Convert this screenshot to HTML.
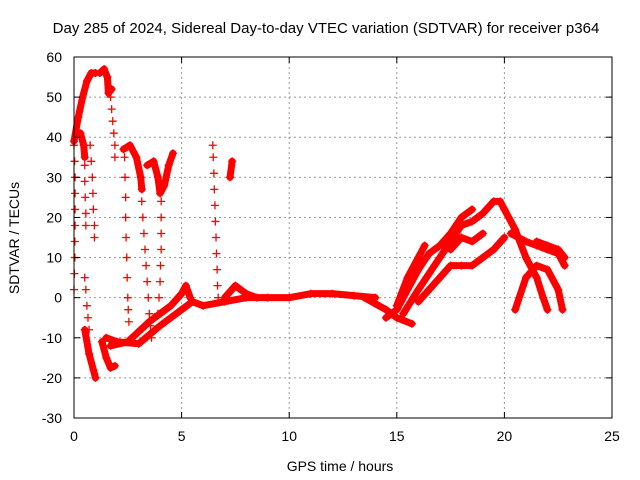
<!DOCTYPE html>
<html><head><meta charset="utf-8"><style>
body{margin:0;background:#fff;}
svg{display:block;font-family:"Liberation Sans",sans-serif;}
</style></head><body>
<svg id="chart" width="640" height="480">
<text x="326" y="33" text-anchor="middle" font-size="15">Day 285 of 2024, Sidereal Day-to-day VTEC variation (SDTVAR) for receiver p364</text>
<text x="340" y="471" text-anchor="middle" font-size="14">GPS time / hours</text>
<text transform="translate(19,238) rotate(-90)" text-anchor="middle" font-size="14">SDTVAR / TECUs</text>
<g id="grid"></g><g id="marks"></g><g id="axes"></g>
</svg>
<script>
const xTicks=[0,5,10,15,20,25];
const yTicks=[-30,-20,-10,0,10,20,30,40,60,50];
const tracks=[
[[0,39],[0.2,45],[0.4,50],[0.6,54],[0.8,56],[1.0,56]],
[[1.2,56],[1.4,57],[1.55,55],[1.6,51],[1.75,52]],
[[0.1,41],[0.3,41],[0.45,38],[0.5,35]],
[[0.5,-8],[0.7,-14],[0.9,-18],[1.0,-20]],
[[1.3,-11],[1.5,-15],[1.7,-17.5],[1.9,-17]],
[[2.3,37],[2.6,38],[2.9,35],[3.1,30],[3.15,27]],
[[3.4,33],[3.7,34],[3.9,30],[4.0,26],[4.2,28],[4.4,33],[4.6,36]],
[[1.5,-10],[2,-11],[3,-11.5],[4,-7],[5,-3],[5.5,-1],[6,-2],[7,-1],[8,0],[9,0],[10,0],[11,1],[12,1],[13,0.5],[14,0]],
[[1.7,-12],[2.5,-11],[3.5,-6],[4.5,-2],[5,1],[5.2,3],[5.4,0]],
[[7.25,30],[7.35,34]],
[[7,0],[7.5,3],[8,1],[8.5,0]],
[[13.5,0],[14.5,-3],[15,-5],[15.7,-6.5]],
[[14.5,-5],[15,-3],[15.5,2],[16,7],[16.5,11],[17,13],[17.5,16],[18,20],[18.5,22]],
[[15,-2],[15.5,5],[16,10],[16.3,13]],
[[15.3,-4],[16,2],[16.5,6],[17,10],[17.5,14],[18,18],[18.5,19],[19,21],[19.5,24],[19.8,24],[20,22],[20.5,17],[21,10],[21.5,5],[21.8,0],[22,-3]],
[[16,-1],[17,5],[17.5,8],[18,8],[18.5,8],[19,10],[19.5,12],[20,15]],
[[17.5,12],[18,15],[18.5,14],[19,16]],
[[20.5,-3],[21,5],[21.5,8],[22,7],[22.5,2],[22.7,-3]],
[[20.3,16],[21,14],[21.5,13],[22,12],[22.5,11],[22.8,8]],
[[21.5,14],[22,13],[22.5,12],[22.8,10]]
];
const sparseTracks=[
[[1.7,50],[1.75,47],[1.8,44],[1.85,41],[1.9,38],[1.9,35]],
[[0,38],[0.03,34],[0.05,30],[0.05,26],[0.05,22],[0.05,18],[0.04,14],[0.04,10],[0.02,6],[0,2]],
[[0.5,33],[0.5,29],[0.52,25],[0.55,21],[0.55,18]],
[[0.75,38],[0.8,34],[0.85,30],[0.88,26],[0.9,22],[0.95,18],[0.95,15]],
[[0.5,5],[0.55,2],[0.6,-2],[0.65,-5],[0.7,-8]],
[[3.15,24],[3.2,20],[3.25,16],[3.3,12],[3.35,8],[3.4,4],[3.45,0],[3.5,-4],[3.55,-7],[3.6,-10]],
[[4.05,24],[4.05,20],[4.05,16],[4.05,12],[4.02,8],[4.0,4],[3.95,0],[3.9,-4]],
[[2.35,35],[2.37,30],[2.4,25],[2.4,20],[2.42,15],[2.45,10],[2.47,5],[2.5,0],[2.52,-3],[2.55,-6]],
[[6.45,38],[6.47,35],[6.5,31],[6.52,27],[6.55,23],[6.57,19],[6.6,15],[6.62,11],[6.65,7],[6.67,3],[6.7,0]]
];
const NS='http://www.w3.org/2000/svg';
const X0=74,X1=612,Y0=418,Y1=57;
function sx(v){return X0+(v-0)/(25-0)*(X1-X0);}
function sy(v){return Y0-(v+30)/90*(Y0-Y1);}
function mk(t,a,p){const e=document.createElementNS(NS,t);for(const k in a)e.setAttribute(k,a[k]);p.appendChild(e);return e;}
const grid=document.getElementById('grid'),axes=document.getElementById('axes'),marks=document.getElementById('marks');
mk('rect',{x:X0,y:Y1,width:X1-X0,height:Y0-Y1,fill:'none',stroke:'#000','stroke-width':1},axes);
xTicks.forEach(t=>{const x=sx(t);
 if(t>0&&t<25){const g=mk('line',{x1:x,x2:x,y1:Y1,y2:Y0,stroke:'#999','stroke-dasharray':'2,3'},grid);}
 mk('line',{x1:x,x2:x,y1:Y0,y2:Y0-6,stroke:'#000'},axes);mk('line',{x1:x,x2:x,y1:Y1,y2:Y1+6,stroke:'#000'},axes);
 const l=mk('text',{x:x,y:Y0+23,'text-anchor':'middle','font-size':14},axes);l.textContent=t;
 
 });
yTicks.forEach(t=>{const y=sy(t);
 if(t>-30&&t<60){const g=mk('line',{x1:X0,x2:X1,y1:y,y2:y,stroke:'#999','stroke-dasharray':'2,3'},grid);}
 mk('line',{x1:X0,x2:X0+6,y1:y,y2:y,stroke:'#000'},axes);mk('line',{x1:X1,x2:X1-6,y1:y,y2:y,stroke:'#000'},axes);
 const l=mk('text',{x:X0-12,y:y+5,'text-anchor':'end','font-size':14},axes);l.textContent=t;
 
 });
function drawMarkers(tr){
 tr.forEach(p=>{const x=sx(p[0]),y=sy(p[1]);
  const m=mk('path',{d:`M${x-4} ${y}H${x+4}M${x} ${y-4}V${y+4}`,stroke:'#f00','stroke-width':1.3},marks);
  
  });
}
tracks.forEach(tr=>{
 const pl=mk('polyline',{points:tr.map(p=>sx(p[0])+','+sy(p[1])).join(' '),fill:'none',stroke:'#f00','stroke-width':7,'stroke-linejoin':'round','stroke-linecap':'round'},marks);
 
 
 drawMarkers(tr);
});
sparseTracks.forEach(tr=>{
 drawMarkers(tr);
});
</script>
</body></html>
